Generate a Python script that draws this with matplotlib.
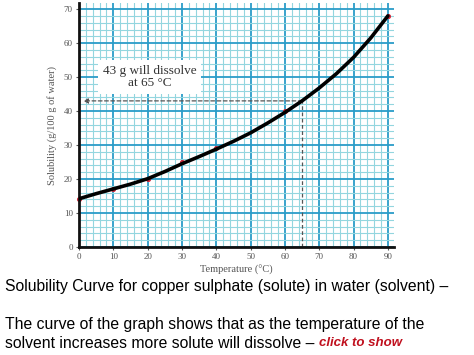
import matplotlib.pyplot as plt
import numpy as np

# solubility curve (every 5 degC)
curve_t = [0, 5, 10, 15, 20, 25, 30, 35, 40, 45, 50, 55, 60, 65, 70, 75, 80, 85, 90]
curve_s = [14.2, 15.7, 17.1, 18.5, 20.1, 22.2, 24.5, 26.6, 28.8, 31.1, 33.6,
           36.5, 39.6, 43.0, 46.8, 51.0, 55.8, 61.5, 68.0]

# measured points (red dots)
pts_t = [0, 10, 20, 30, 40, 60, 90]
pts_s = [14, 17, 20, 25, 29, 40, 68]

read_t = 65
read_s = 43

xticks = [0, 10, 20, 30, 40, 50, 60, 70, 80, 90]
yticks = [0, 10, 20, 30, 40, 50, 60, 70]

fig = plt.figure(figsize=(4.74, 3.55), dpi=100)
ax = fig.add_axes([0.1667, 0.3042, 0.6646, 0.6873])
ax.set_xlim(0, 91.8)
ax.set_ylim(0, 71.8)

# graph paper
ax.set_xticks(np.arange(0, 92, 2), minor=True)
ax.set_yticks(np.arange(0, 72, 2), minor=True)
ax.grid(which='minor', color='#93d6df', lw=0.8, zorder=0)
ax.grid(which='major', color='#2a9cc8', lw=1.3, zorder=0)
ax.set_axisbelow(True)
ax.tick_params(which='minor', length=0)

ax.set_xticks(xticks)
ax.set_yticks(yticks)
ax.tick_params(which='major', length=2.5, width=0.8, color='#555555',
               labelsize=6.5, labelcolor='#555555', pad=2)
for lab in ax.get_xticklabels() + ax.get_yticklabels():
    lab.set_family('Liberation Serif')

for s in ['top', 'right']:
    ax.spines[s].set_visible(False)
for s in ['left', 'bottom']:
    ax.spines[s].set_linewidth(2)
    ax.spines[s].set_color('#111111')

# reading lines at 65 degC
ax.plot([read_t, read_t], [0, read_s], ls='--', color='#555555', lw=0.9, dashes=(3, 2), zorder=2)
ax.annotate('', xy=(1.2, read_s), xytext=(read_t, read_s),
            arrowprops=dict(arrowstyle='-|>', ls=(0, (3, 2)), color='#555555', lw=0.9,
                            mutation_scale=7, shrinkA=0, shrinkB=0), zorder=2)

ax.plot(curve_t, curve_s, color='black', lw=2.6, zorder=3, solid_capstyle='round')
ax.scatter(pts_t, pts_s, s=7, color='#d0283a', zorder=2.5, clip_on=False)

ax.text(20.5, 50, '43 g will dissolve\nat 65 \u00b0C', ha='center', va='center',
        family='Liberation Serif', fontsize=9.5, color='#333333', linespacing=1.0,
        bbox=dict(facecolor='white', edgecolor='none', pad=3.5), zorder=4)

ax.set_xlabel('Temperature (\u00b0C)', family='Liberation Serif', fontsize=7.5,
              color='#555555', labelpad=3)
ax.set_ylabel('Solubility (g/100 g of water)', family='Liberation Serif', fontsize=7.5,
              color='#555555', labelpad=5)

fs = 11.3
fig.text(0.011, 1 - 287 / 355, 'Solubility Curve for copper sulphate (solute) in water (solvent) \u2013',
         family='Liberation Sans', fontsize=fs, va='center', ha='left')
fig.text(0.011, 1 - 325 / 355, 'The curve of the graph shows that as the temperature of the',
         family='Liberation Sans', fontsize=fs, va='center', ha='left')
t = fig.text(0.011, 1 - 343 / 355, 'solvent increases more solute will dissolve \u2013 ',
             family='Liberation Sans', fontsize=fs, va='center', ha='left')
fig.canvas.draw()
bb = t.get_window_extent()
fig.text(bb.x1 / fig.bbox.width, 1 - 343 / 355, 'click to show', family='Liberation Sans',
         fontsize=9.5, fontweight='bold', fontstyle='italic', color='#c0101e', va='center', ha='left')

fig.savefig('out.png', dpi=100)
